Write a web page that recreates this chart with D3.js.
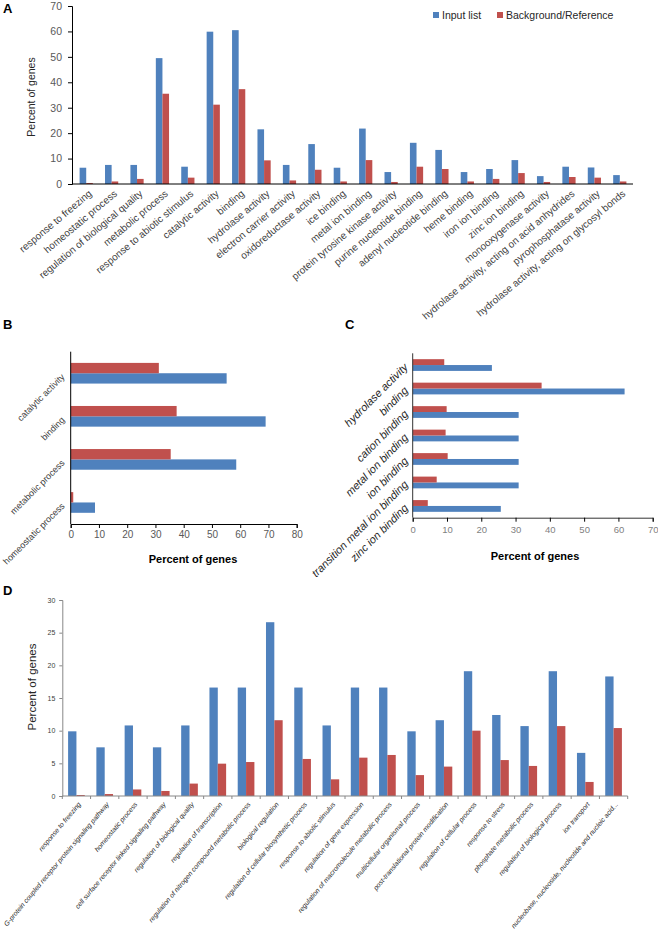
<!DOCTYPE html>
<html>
<head>
<meta charset="utf-8">
<script src="https://cdn.jsdelivr.net/npm/d3@7"></script>
<style>
  body { margin: 0; background: #fff; }
  text { font-family: "Liberation Sans", Arial, sans-serif; }
</style>
</head>
<body>
<div id="chart"></div>
<script>
// series names + colours
var seriesNames = ["Input list", "Background/Reference"];
var blue = "#4f81bd";
var red = "#c0504d";

// panel A
var aCategories = ["response to freezing", "homeostatic process", "regulation of biological quality",
  "metabolic process", "response to abiotic stimulus", "catalytic activity", "binding",
  "hydrolase activity", "electron carrier activity", "oxidoreductase activity", "ice binding",
  "metal ion binding", "protein tyrosine kinase activity", "purine nucleotide binding",
  "adenyl nucleotide binding", "heme binding", "iron ion binding", "zinc ion binding",
  "monooxygenase activity", "hydrolase activity, acting on acid anhydrides",
  "pyrophosphatase activity", "hydrolase activity, acting on glycosyl bonds"];
var aInput = [6.4, 7.5, 7.5, 49.5, 6.8, 59.9, 60.5, 21.5, 7.5, 15.7, 6.4,
  21.8, 4.7, 16.2, 13.4, 4.7, 5.9, 9.4, 3.1, 6.8, 6.5, 3.5];
var aRef = [0.4, 1.0, 2.0, 35.5, 2.5, 31.2, 37.3, 9.3, 1.4, 5.6, 1.0,
  9.4, 0.8, 6.8, 5.9, 1.0, 2.0, 4.3, 0.8, 2.75, 2.5, 1.0];
var aTicks = [0, 10, 20, 30, 40, 50, 60, 70];

// panel B
var bCategories = ["catalytic activity", "binding", "metabolic process", "homeostatic process"];
var bInput = [55.2, 69.0, 58.6, 8.6];
var bRef = [31.2, 37.5, 35.4, 0.9];
var bTicks = [0, 10, 20, 30, 40, 50, 60, 70, 80];

// panel C
var cCategories = ["hydrolase activity", "binding", "cation binding", "metal ion binding",
  "ion binding", "transition metal ion binding", "zinc ion binding"];
var cInput = [23.1, 61.8, 30.9, 30.9, 30.9, 30.9, 25.7];
var cRef = [9.2, 37.6, 9.9, 9.6, 10.2, 7.0, 4.4];
var cTicks = [0, 10, 20, 30, 40, 50, 60, 70];

// panel D
var dCategories = ["response to freezing", "G-protein coupled receptor protein signaling pathway",
  "homeostatic process", "cell surface receptor linked signaling pathway",
  "regulation of biological quality", "regulation of transcription",
  "regulation of nitrogen compound metabolic process", "biological regulation",
  "regulation of cellular biosynthetic process", "response to abiotic stimulus",
  "regulation of gene expression", "regulation of macromolecule metabolic process",
  "multicellular organismal process", "post-translational protein modification",
  "regulation of cellular process", "response to stress", "phosphate metabolic process",
  "regulation of biological process", "ion transport",
  "nucleobase, nucleoside, nucleotide and nucleic acid..."];
var dInput = [9.9, 7.45, 10.8, 7.45, 10.8, 16.6, 16.6, 26.6, 16.6, 10.8,
  16.6, 16.6, 9.9, 11.6, 19.1, 12.4, 10.7, 19.1, 6.6, 18.3];
var dRef = [0.15, 0.3, 1.0, 0.77, 1.9, 4.95, 5.2, 11.6, 5.67, 2.55,
  5.87, 6.28, 3.2, 4.5, 10.0, 5.5, 4.6, 10.7, 2.15, 10.4];
var dTicks = [0, 5, 10, 15, 20, 25, 30];

function rows(cats, inp, ref) {
  return cats.map(function(c, i) { return {cat: c, vals: [inp[i], ref[i]]}; });
}

var svg = d3.select("#chart").append("svg")
  .attr("width", 658)
  .attr("height", 952);

function panelLetter(t, x, y) {
  svg.append("text").attr("x", x).attr("y", y)
    .attr("font-size", 13).attr("font-weight", "bold").attr("fill", "#000").text(t);
}

// ---------- A ----------
var ax0 = d3.scaleBand().domain(aCategories).range([73, 633]).paddingInner(0.48).paddingOuter(0.26);
var ax1 = d3.scaleBand().domain([0, 1]).range([0, ax0.bandwidth()]);
var ay = d3.scaleLinear().domain([0, 70]).range([184, 6]);

var gA = svg.append("g");
gA.append("g").selectAll("g").data(rows(aCategories, aInput, aRef)).enter().append("g")
  .attr("transform", d => `translate(${ax0(d.cat)},0)`)
  .selectAll("rect").data(d => d.vals).enter().append("rect")
  .attr("x", (v, i) => ax1(i))
  .attr("y", v => ay(v))
  .attr("width", ax1.bandwidth())
  .attr("height", v => ay(0) - ay(v))
  .attr("fill", (v, i) => i == 0 ? blue : red);

var aLeft = gA.append("g").attr("transform", "translate(72,0)")
  .call(d3.axisLeft(ay).tickValues(aTicks).tickSize(4).tickPadding(6));
aLeft.selectAll("text").attr("font-size", 10.5).attr("fill", "#595959").attr("font-family", "Liberation Sans, Arial");
aLeft.select(".domain").attr("stroke", "#000");

gA.append("line").attr("x1", 72).attr("x2", 633).attr("y1", ay(0)).attr("y2", ay(0)).attr("stroke", "#000");

gA.selectAll(".alab").data(aCategories).enter().append("text")
  .attr("class", "alab")
  .attr("transform", d => `translate(${ax0(d) + ax0.bandwidth() / 2 + 4},192) rotate(-40)`)
  .attr("text-anchor", "end")
  .attr("dy", "0.35em")
  .attr("font-size", 10)
  .attr("fill", "#404040")
  .text(d => d);

gA.append("text")
  .attr("transform", "translate(35,97) rotate(-90)")
  .attr("text-anchor", "middle")
  .attr("font-size", 10.5)
  .attr("fill", "#262626")
  .text("Percent of genes");

// legend
var legX = [433, 497];
seriesNames.forEach(function(s, i) {
  gA.append("rect").attr("x", legX[i]).attr("y", 12).attr("width", 6).attr("height", 6)
    .attr("fill", i == 0 ? blue : red);
  gA.append("text").attr("x", legX[i] + 9).attr("y", 19)
    .attr("font-size", 10.5).attr("fill", "#262626").text(s);
});
panelLetter("A", 3, 13);

// ---------- B ----------
var by0 = d3.scaleBand().domain(bCategories).range([351.7, 524]).paddingInner(0.52).paddingOuter(0.26);
var by1 = d3.scaleBand().domain([1, 0]).range([0, by0.bandwidth()]);
var bx = d3.scaleLinear().domain([0, 80]).range([70.7, 296.7]);

var gB = svg.append("g");
gB.append("g").selectAll("g").data(rows(bCategories, bInput, bRef)).enter().append("g")
  .attr("transform", d => `translate(0,${by0(d.cat)})`)
  .selectAll("rect").data(d => d.vals).enter().append("rect")
  .attr("x", bx(0))
  .attr("y", (v, i) => by1(i))
  .attr("width", v => bx(v) - bx(0))
  .attr("height", by1.bandwidth())
  .attr("fill", (v, i) => i == 0 ? blue : red);

var bBottom = gB.append("g").attr("transform", "translate(0,524)")
  .call(d3.axisBottom(bx).tickValues(bTicks).tickSize(4).tickPadding(3));
bBottom.selectAll("text").attr("font-size", 10).attr("fill", "#595959").attr("font-family", "Liberation Sans, Arial");
bBottom.select(".domain").attr("stroke", "#000");
gB.append("line").attr("x1", bx(0)).attr("x2", bx(0)).attr("y1", 351.7).attr("y2", 524).attr("stroke", "#000");

gB.selectAll(".blab").data(bCategories).enter().append("text")
  .attr("transform", d => `translate(63,${by0(d) + by0.bandwidth() / 2 + 2}) rotate(-45)`)
  .attr("text-anchor", "end")
  .attr("dy", "0.35em")
  .attr("font-size", 9)
  .attr("fill", "#404040")
  .text(d => d);

gB.append("text").attr("x", 193).attr("y", 563)
  .attr("text-anchor", "middle").attr("font-size", 11).attr("font-weight", "bold")
  .attr("fill", "#000").text("Percent of genes");
panelLetter("B", 3, 329);

// ---------- C ----------
var cy0 = d3.scaleBand().domain(cCategories).range([353.3, 517.7]).paddingInner(0.5).paddingOuter(0.25);
var cy1 = d3.scaleBand().domain([1, 0]).range([0, cy0.bandwidth()]);
var cx = d3.scaleLinear().domain([0, 70]).range([412.7, 652.7]);

var gC = svg.append("g");
gC.append("g").selectAll("g").data(rows(cCategories, cInput, cRef)).enter().append("g")
  .attr("transform", d => `translate(0,${cy0(d.cat)})`)
  .selectAll("rect").data(d => d.vals).enter().append("rect")
  .attr("x", cx(0))
  .attr("y", (v, i) => cy1(i))
  .attr("width", v => cx(v) - cx(0))
  .attr("height", cy1.bandwidth())
  .attr("fill", (v, i) => i == 0 ? blue : red);

var cBottom = gC.append("g").attr("transform", "translate(0,517.7)")
  .call(d3.axisBottom(cx).tickValues(cTicks).tickSize(4).tickPadding(5));
cBottom.selectAll("text").attr("font-size", 9.5).attr("fill", "#7f7f7f").attr("font-family", "Liberation Sans Narrow, Liberation Sans, Arial");
cBottom.select(".domain").attr("stroke", "#333");
gC.append("line").attr("x1", cx(0)).attr("x2", cx(0)).attr("y1", 353.3).attr("y2", 517.7).attr("stroke", "#333");

gC.selectAll(".clab").data(cCategories).enter().append("text")
  .attr("transform", d => `translate(406,${cy0(d) + cy0.bandwidth() / 2}) rotate(-45)`)
  .attr("text-anchor", "end")
  .attr("dy", "0.35em")
  .attr("font-size", 11)
  .attr("font-style", "italic")
  .attr("fill", "#262626")
  .text(d => d);

gC.append("text").attr("x", 535).attr("y", 560)
  .attr("text-anchor", "middle").attr("font-size", 11).attr("font-weight", "bold")
  .attr("fill", "#000").text("Percent of genes");
panelLetter("C", 345, 329);

// ---------- D ----------
var dx0 = d3.scaleBand().domain(dCategories).range([62.3, 627.7]).paddingInner(0.41).paddingOuter(0.205);
var dx1 = d3.scaleBand().domain([0, 1]).range([0, dx0.bandwidth()]);
var dy = d3.scaleLinear().domain([0, 30]).range([796, 600]);

var gD = svg.append("g");
gD.append("g").selectAll("g").data(rows(dCategories, dInput, dRef)).enter().append("g")
  .attr("transform", d => `translate(${dx0(d.cat)},0)`)
  .selectAll("rect").data(d => d.vals).enter().append("rect")
  .attr("x", (v, i) => dx1(i))
  .attr("y", v => dy(v))
  .attr("width", dx1.bandwidth())
  .attr("height", v => dy(0) - dy(v))
  .attr("fill", (v, i) => i == 0 ? blue : red);

var dLeft = gD.append("g").attr("transform", "translate(62.3,0)")
  .call(d3.axisLeft(dy).tickValues(dTicks).tickSize(3).tickPadding(4));
dLeft.selectAll("text").attr("font-size", 7).attr("fill", "#404040").attr("font-family", "Liberation Sans, Arial");
dLeft.select(".domain").attr("stroke", "#888");
dLeft.selectAll(".tick line").attr("stroke", "#888");

gD.append("line").attr("x1", 62.3).attr("x2", 627.7).attr("y1", dy(0)).attr("y2", dy(0)).attr("stroke", "#888");
// tick marks between categories
var dBounds = dCategories.map((c, i) => 62.3 + i * dx0.step()).concat([627.7]);
gD.selectAll(".dtick").data(dBounds).enter().append("line")
  .attr("x1", d => d).attr("x2", d => d)
  .attr("y1", dy(0)).attr("y2", dy(0) + 3)
  .attr("stroke", "#888");

gD.selectAll(".dlab").data(dCategories).enter().append("text")
  .attr("transform", d => `translate(${dx0(d) + dx0.bandwidth() / 2 + 3},803) rotate(-50)`)
  .attr("text-anchor", "end")
  .attr("dy", "0.35em")
  .attr("font-size", 6.8)
  .attr("font-style", "italic")
  .attr("fill", "#262626")
  .text(d => d);

gD.append("text")
  .attr("transform", "translate(36,687) rotate(-90)")
  .attr("text-anchor", "middle")
  .attr("font-size", 11.5)
  .attr("fill", "#262626")
  .text("Percent of genes");
panelLetter("D", 3, 595);
</script>
</body>
</html>
